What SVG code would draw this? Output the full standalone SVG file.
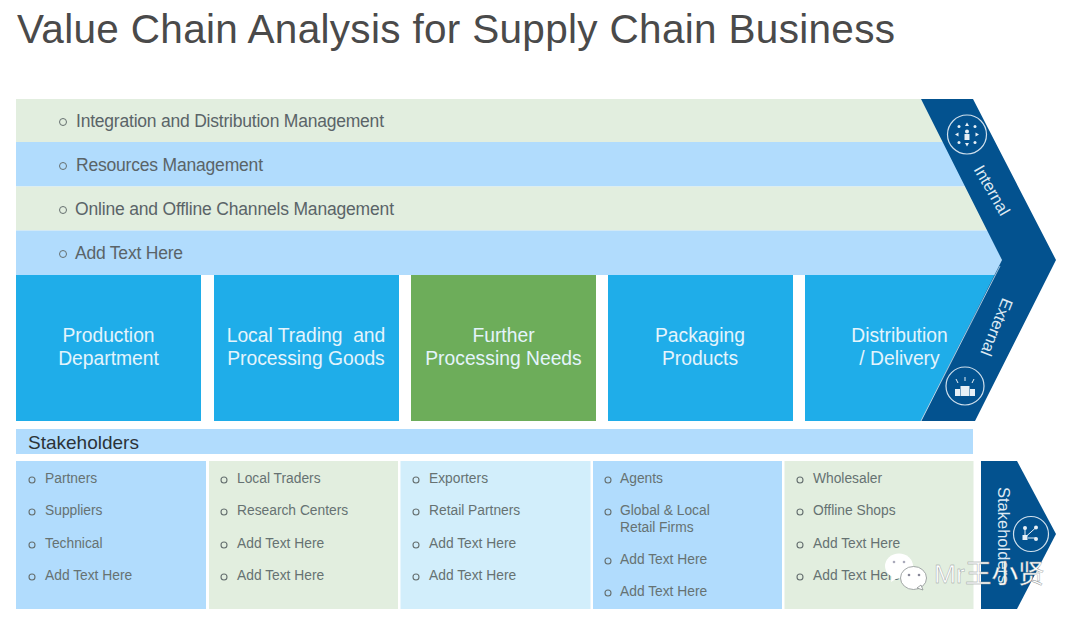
<svg xmlns="http://www.w3.org/2000/svg" width="1080" height="621" viewBox="0 0 1080 621">
<style>
text{font-family:"Liberation Sans",Arial,sans-serif}
.title{font-size:40.500px;fill:#4a4a4a}
.band{font-size:17.500px;fill:#5a6468}
.bul{font-size:13.800px;fill:#667272}
.box{font-size:19.300px;fill:#e4f4fc;text-anchor:middle}
.side{font-size:16.500px;fill:#dfeaf3;text-anchor:middle}
.circ{fill:none;stroke:#cfdfec;stroke-width:1.2}
.dot{fill:none;stroke:#667070;stroke-width:1}
.dot2{fill:none;stroke:#667070;stroke-width:1.100}
.ic{fill:#e8f0f6}
.icl{fill:none;stroke:#e8f0f6;stroke-width:1}
</style>
<rect width="1080" height="621" fill="#fff"/>
<text class="title" x="17" y="42.500" textLength="878" lengthAdjust="spacing">Value Chain Analysis for Supply Chain Business</text>

<g id="band1"><polygon points="16,99 921,99 946,142 16,142" fill="#e2eedf"/><circle class="dot" cx="63" cy="122" r="3.500"/><text class="band" x="76" y="127" textLength="308">Integration and Distribution Management</text></g>
<g id="band2"><polygon points="16,142 946,142 968,186.500 16,186.500" fill="#b1dcfd"/><circle class="dot" cx="63" cy="166" r="3.500"/><text class="band" x="76" y="171" textLength="187">Resources Management</text></g>
<g id="band3"><polygon points="16,186.500 968,186.500 988,230.500 16,230.500" fill="#e2eedf"/><circle class="dot" cx="63" cy="210" r="3.500"/><text class="band" x="75" y="215" textLength="319">Online and Offline Channels Management</text></g>
<g id="band4"><polygon points="16,230.500 988,230.500 1002,260 995,275 16,275" fill="#b1dcfd"/><circle class="dot" cx="63" cy="254" r="3.500"/><text class="band" x="75" y="259" textLength="108">Add Text Here</text></g>

<g id="box1"><rect x="16" y="275" width="185" height="146" fill="#1fade9"/><text class="box" x="108.500" y="341.500">Production</text><text class="box" x="108.500" y="364.500">Department</text></g>
<g id="box2"><rect x="214" y="275" width="185" height="146" fill="#1fade9"/><text class="box" x="306" y="341.500" xml:space="preserve">Local Trading  and</text><text class="box" x="306" y="364.500">Processing Goods</text></g>
<g id="box3"><rect x="411" y="275" width="185" height="146" fill="#6dad5a"/><text class="box" x="503.500" y="341.500">Further</text><text class="box" x="503.500" y="364.500">Processing Needs</text></g>
<g id="box4"><rect x="608" y="275" width="185" height="146" fill="#1fade9"/><text class="box" x="700" y="341.500">Packaging</text><text class="box" x="700" y="364.500">Products</text></g>
<g id="box5"><polygon points="805,275 995,275 921,421 805,421" fill="#1fade9"/><text class="box" x="899.500" y="341.500">Distribution</text><text class="box" x="899.500" y="364.500">/ Delivery</text></g>

<g id="chevron">
<polygon points="921,99 973,99 1056,260 975,421 921,421 1002,260" fill="#03528f"/>
<path d="M1000,266L921,421" fill="none" stroke="#cfe3f0" stroke-width="0.800"/>
<g id="icon-internal"><circle class="circ" cx="967" cy="134.500" r="19.500"/>
<rect class="ic" x="964.500" y="134" width="5" height="6"/><circle class="ic" cx="967" cy="131.500" r="2"/>
<g class="ic"><polygon points="967,122.500 965,126 969,126"/><polygon points="967,146.500 965,143 969,143"/><polygon points="955,134.500 958.500,132.500 958.500,136.500"/><polygon points="979,134.500 975.500,132.500 975.500,136.500"/><circle cx="959" cy="126.500" r="1.500"/><circle cx="975" cy="126.500" r="1.500"/><circle cx="959" cy="142.500" r="1.500"/><circle cx="975" cy="142.500" r="1.500"/></g></g>
<text class="side" transform="translate(987,193) rotate(60)">Internal</text>
<text class="side" transform="translate(991.500,325) rotate(112)">External</text>
<g id="icon-external"><circle class="circ" cx="965" cy="386" r="19"/>
<rect class="ic" x="960.500" y="386" width="9" height="10"/><rect class="ic" x="955" y="389" width="5" height="7"/><rect class="ic" x="970" y="389" width="5" height="7"/>
<path class="icl" d="M956,379l2,4M965,377v4M974,379l-2,4"/></g>
</g>

<g id="stakeholders-header"><rect x="16" y="429" width="957" height="25" fill="#b1dcfd"/><text x="28" y="449" style="font-size:19px;fill:#2c3338">Stakeholders</text></g>

<g id="col1"><rect x="16" y="461" width="190" height="148" fill="#b1dcfd"/>
<circle class="dot2" cx="32" cy="480" r="3"/><text class="bul" x="45" y="483">Partners</text>
<circle class="dot2" cx="32" cy="512" r="3"/><text class="bul" x="45" y="515">Suppliers</text>
<circle class="dot2" cx="32" cy="545" r="3"/><text class="bul" x="45" y="548">Technical</text>
<circle class="dot2" cx="32" cy="577" r="3"/><text class="bul" x="45" y="580">Add Text Here</text></g>
<g id="col2"><rect x="209" y="461" width="189" height="148" fill="#e2eedf"/>
<circle class="dot2" cx="224" cy="480" r="3"/><text class="bul" x="237" y="483">Local Traders</text>
<circle class="dot2" cx="224" cy="512" r="3"/><text class="bul" x="237" y="515">Research Centers</text>
<circle class="dot2" cx="224" cy="545" r="3"/><text class="bul" x="237" y="548">Add Text Here</text>
<circle class="dot2" cx="224" cy="577" r="3"/><text class="bul" x="237" y="580">Add Text Here</text></g>
<g id="col3"><rect x="400.500" y="461" width="190" height="148" fill="#d2eefb"/>
<circle class="dot2" cx="416" cy="480" r="3"/><text class="bul" x="429" y="483">Exporters</text>
<circle class="dot2" cx="416" cy="512" r="3"/><text class="bul" x="429" y="515">Retail Partners</text>
<circle class="dot2" cx="416" cy="545" r="3"/><text class="bul" x="429" y="548">Add Text Here</text>
<circle class="dot2" cx="416" cy="577" r="3"/><text class="bul" x="429" y="580">Add Text Here</text></g>
<g id="col4"><rect x="593" y="461" width="189" height="148" fill="#b1dcfd"/>
<circle class="dot2" cx="608" cy="480" r="3"/><text class="bul" x="620" y="483">Agents</text>
<circle class="dot2" cx="608" cy="512" r="3"/><text class="bul" x="620" y="515">Global &amp; Local</text><text class="bul" x="620" y="532">Retail Firms</text>
<circle class="dot2" cx="608" cy="561" r="3"/><text class="bul" x="620" y="564">Add Text Here</text>
<circle class="dot2" cx="608" cy="593" r="3"/><text class="bul" x="620" y="596">Add Text Here</text></g>
<g id="col5"><rect x="784.500" y="461" width="189" height="148" fill="#e2eedf"/>
<circle class="dot2" cx="800" cy="480" r="3"/><text class="bul" x="813" y="483">Wholesaler</text>
<circle class="dot2" cx="800" cy="512" r="3"/><text class="bul" x="813" y="515">Offline Shops</text>
<circle class="dot2" cx="800" cy="545" r="3"/><text class="bul" x="813" y="548">Add Text Here</text>
<circle class="dot2" cx="800" cy="577" r="3"/><text class="bul" x="813" y="580">Add Text Here</text></g>

<g id="stakeholders-arrow"><polygon points="981,461 1017,461 1056,534 1017,609 981,609" fill="#03528f"/>
<text class="side" transform="translate(998,487) rotate(90)" style="text-anchor:start">Stakeholders</text>
<circle class="circ" cx="1031" cy="534" r="17.500"/>
<g class="ic"><circle cx="1025" cy="528" r="2"/><circle cx="1036" cy="527.500" r="2"/><rect x="1022.500" y="535" width="5" height="5"/><circle cx="1036" cy="539" r="2"/></g>
<path class="icl" d="M1025,528v8M1036,527.500l-10,9M1028,538h8"/></g>

<g id="watermark">
<ellipse cx="899" cy="566" rx="14" ry="12.500" fill="#fff"/>
<polygon points="892,575 891,582 899,577" fill="#fff"/>
<ellipse cx="913.500" cy="578" rx="13" ry="11.500" fill="#fff" stroke="#8a9090" stroke-width="0.800"/>
<polygon points="917,588 923,590 921,585" fill="#fff" stroke="#8a9090" stroke-width="0.800"/>
<circle cx="894" cy="562" r="1.300" fill="#aab"/><circle cx="904" cy="562" r="1.300" fill="#aab"/>
<circle cx="909" cy="575" r="1.300" fill="#889"/><circle cx="919" cy="575" r="1.300" fill="#889"/>
<text x="934" y="583" style='font-family:"Liberation Sans","Noto Sans CJK SC",sans-serif;font-size:26.500px;fill:#fff;stroke:#8f9696;stroke-width:0.400'>Mr王小贤</text>
</g>
</svg>
